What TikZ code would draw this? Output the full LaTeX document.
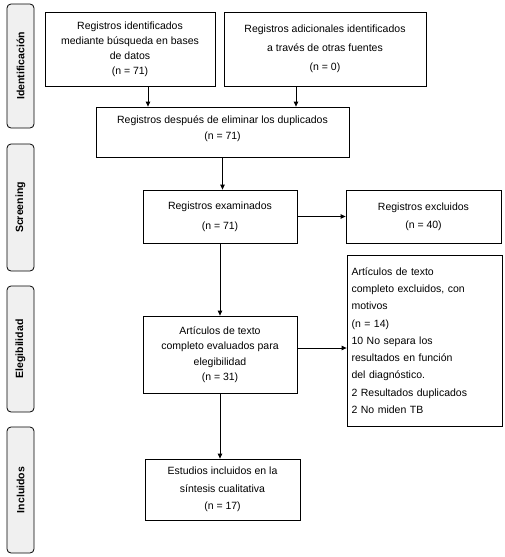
\documentclass[tikz,border=0pt]{standalone}
\usepackage{fontspec}
\setmainfont{Liberation Sans}
\usetikzlibrary{arrows.meta}
\begin{document}
\begin{tikzpicture}[x=1pt,y=-1pt,
  box/.style={draw=black,line width=0.8pt,inner sep=0pt,align=center,font=\fontsize{10.5}{15}\selectfont},
  side/.style={draw=black,line width=0.8pt,fill=gray!12,rounded corners=4pt,minimum width=27pt,inner sep=0pt},
  sidetext/.style={rotate=90,font=\bfseries\fontsize{10.5}{12}\selectfont},
  arr/.style={line width=0.8pt,-{Triangle[length=5pt,width=4.5pt]}}]
\useasboundingbox (0,0) rectangle (504,557);
% side labels
\node[side,minimum height=124pt] (s1) at (20.5,66) {};
\node[sidetext] (t1) at (s1.center) {Identificación};
\node[side,minimum height=127pt] (s2) at (20.5,207.5) {};
\node[sidetext] (t2) at (s2.center) {Screening};
\node[side,minimum height=126pt] (s3) at (20.5,349) {};
\node[sidetext] (t3) at (s3.center) {Elegibilidad};
\node[side,minimum height=126pt] (s4) at (20.5,490) {};
\node[sidetext] (t4) at (s4.center) {Incluidos};
% boxes
\node[box,minimum width=170pt,minimum height=74pt] (b1) at (130,49)
  {Registros identificados\\mediante búsqueda en bases\\de datos\\(n = 71)};
\node[box,minimum width=202pt,minimum height=74pt,font=\fontsize{10.5}{19}\selectfont] (b2) at (325,49)
  {Registros adicionales identificados\\a través de otras fuentes\\(n = 0)};
\node[box,minimum width=253pt,minimum height=50pt,font=\fontsize{10.5}{16}\selectfont] (b3) at (222.5,132)
  {Registros después de eliminar los duplicados\\(n = 71)\\[-8pt]\mbox{}};
\node[box,minimum width=154pt,minimum height=53pt,font=\fontsize{10.5}{20}\selectfont] (b4) at (220,216.5)
  {Registros examinados\\(n = 71)};
\node[box,minimum width=155pt,minimum height=53pt,font=\fontsize{10.5}{18}\selectfont] (ex1) at (423.5,216.5)
  {Registros excluidos\\(n = 40)};
\node[box,minimum width=154pt,minimum height=77pt,font=\fontsize{10.5}{15.5}\selectfont] (el) at (220,354.5)
  {Artículos de texto\\completo evaluados para\\elegibilidad\\(n = 31)};
\node[box,minimum width=155pt,minimum height=171pt,align=left,text width=146pt,font=\fontsize{10.5}{17.25}\selectfont] (ex2) at (424.5,340.5)
  {Artículos de texto\\completo excluidos, con\\motivos\\(n = 14)\\10 No separa los\\resultados en función\\del diagnóstico.\\2 Resultados duplicados\\2 No miden TB};
\node[box,minimum width=155pt,minimum height=61pt,font=\fontsize{10.5}{17.5}\selectfont] (inc) at (222.5,489.5)
  {Estudios incluidos en la\\síntesis cualitativa\\(n = 17)};
% connectors
\coordinate (elx) at ([yshift=6.5pt]el.east);
\draw[arr] ([xshift=18pt]b1.south) -- ([xshift=18pt]b1.south |- b3.north);
\draw[arr] ([xshift=-29pt]b2.south) -- ([xshift=-29pt]b2.south |- b3.north);
\draw[arr] (b3.south) -- (b3.south |- b4.north);
\draw[arr] (b4.east) -- (ex1.west);
\draw[arr] (b4.south) -- (el.north);
\draw[arr] (elx) -- (ex2.west |- elx);
\draw[arr] (el.south) -- (el.south |- inc.north);
\end{tikzpicture}
\end{document}
